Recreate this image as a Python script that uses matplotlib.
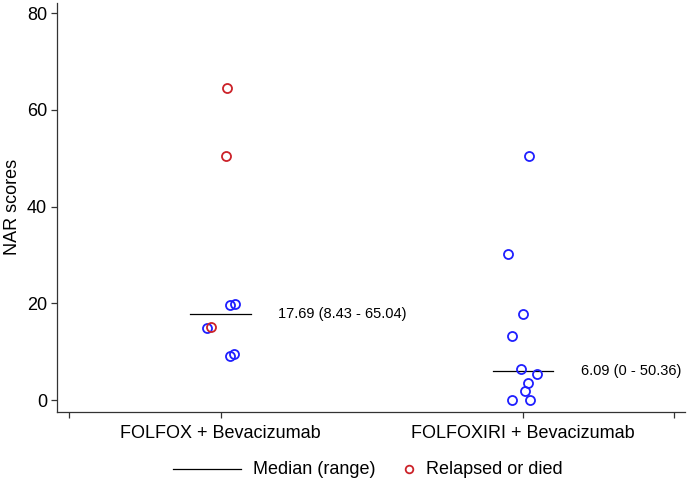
import numpy as np
import matplotlib
matplotlib.use('Agg')
import matplotlib.pyplot as plt
from matplotlib.lines import Line2D

plt.rcParams['font.family'] = ['Liberation Sans', 'DejaVu Sans']

# data
groups = ['FOLFOX + Bevacizumab', 'FOLFOXIRI + Bevacizumab']
group_pos = [1, 2]

folfox_scores = [64.5, 50.5, 19.7, 19.9, 15.2, 14.9, 9.5, 9.0]
folfox_jitter = [0.022, 0.019, 0.032, 0.049, -0.032, -0.045, 0.043, 0.030]
folfox_relapsed = [True, True, False, False, True, False, False, False]

folfoxiri_scores = [50.5, 30.1, 17.8, 13.3, 6.4, 5.4, 3.6, 1.9, 0.0, 0.0]
folfoxiri_jitter = [0.019, -0.051, -0.002, -0.038, -0.008, 0.046, 0.015, 0.005, -0.038, 0.024]
folfoxiri_relapsed = [False] * 10

medians = [17.69, 6.09]
median_labels = ['17.69 (8.43 - 65.04)', '6.09 (0 - 50.36)']

y_ticks = [0, 20, 40, 60, 80]

BLUE = '#1f1fff'
RED = '#cc2229'

fig = plt.figure(figsize=(6.88, 4.83), dpi=100)
ax = fig.add_axes([0.0833, 0.1476, 0.9123, 0.8462])

all_scores = [folfox_scores, folfoxiri_scores]
all_jitter = [folfox_jitter, folfoxiri_jitter]
all_relapsed = [folfox_relapsed, folfoxiri_relapsed]

for pos, sc, jit, rel in zip(group_pos, all_scores, all_jitter, all_relapsed):
    sc = np.array(sc)
    x = pos + np.array(jit)
    rel = np.array(rel)
    ax.plot(x[~rel], sc[~rel], 'o', ms=6.5, mfc='none', mec=BLUE, mew=1.3, zorder=3)
    ax.plot(x[rel], sc[rel], 'o', ms=6.5, mfc='none', mec=RED, mew=1.3, zorder=4)

for pos, med, lab in zip(group_pos, medians, median_labels):
    ax.plot([pos - 0.1, pos + 0.1], [med, med], color='black', lw=0.9, zorder=2)
    ax.text(pos + 0.19, med, lab, fontsize=10.5, va='center', ha='left')

ax.set_xlim(0.46, 2.535)
ax.set_ylim(-2.42, 82.1)
ax.set_xticks([0.5, 1, 2, 2.5])
ax.set_xticklabels(['', groups[0], groups[1], ''])
ax.set_yticks(y_ticks)
ax.set_ylabel('NAR scores', fontsize=13, labelpad=4)

for s in ['top', 'right']:
    ax.spines[s].set_visible(False)
for s in ['left', 'bottom']:
    ax.spines[s].set_linewidth(0.9)
    ax.spines[s].set_color('#333333')
ax.tick_params(axis='both', labelsize=13, length=4.5, width=0.9, color='#333333')
ax.tick_params(axis='x', pad=5)
ax.tick_params(axis='y', pad=3)

# legend drawn below the plot
fig.add_artist(Line2D([173 / 688, 241 / 688], [1 - 469 / 483] * 2, color='black', lw=0.9,
                      transform=fig.transFigure))
fig.text(253 / 688, 1 - 469 / 483, 'Median (range)', fontsize=13, va='center', ha='left')
fig.add_artist(Line2D([409 / 688], [1 - 469 / 483], marker='o', ms=5.5, mfc='none', mec=RED,
                      mew=1.3, transform=fig.transFigure))
fig.text(426 / 688, 1 - 469 / 483, 'Relapsed or died', fontsize=13, va='center', ha='left')

fig.savefig('out.png', dpi=100)
